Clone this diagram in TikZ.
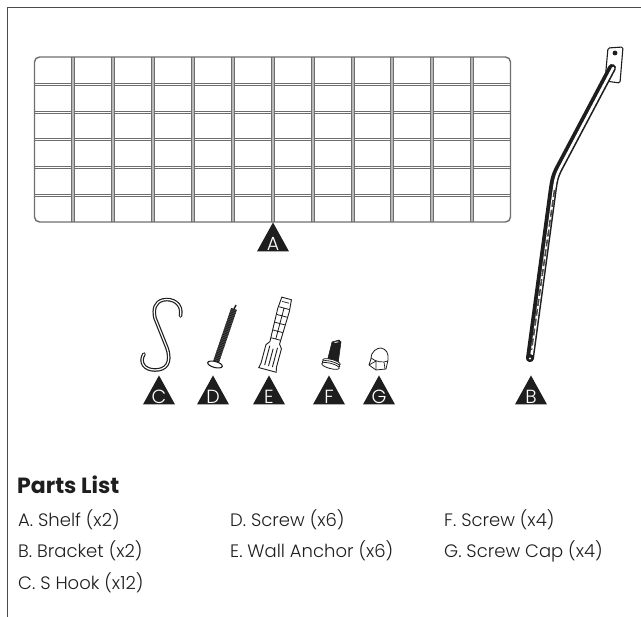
\documentclass[tikz,border=0pt]{standalone}
\usepackage{fontspec}
\setmainfont{Poppins}
\newfontfamily\tagfont{Poppins Light}
\usetikzlibrary{calc,shapes.geometric}
\definecolor{wire}{HTML}{6E6E6E}
\definecolor{ink}{HTML}{1E1E1E}
\tikzset{x=1pt,y=-1pt,
 frameline/.style={draw=ink!80,line width=0.9pt},
 tagbox/.style={isosceles triangle,isosceles triangle stretches=true,shape border rotate=90,fill=ink,inner sep=0pt,minimum height=29pt,minimum width=32pt},
 taglabel/.style={text=white,font=\fontsize{19}{19}\selectfont\tagfont,inner sep=0pt},
 listtext/.style={anchor=base west,text=ink,font=\fontsize{18}{20}\selectfont\tagfont,inner sep=0pt},
 heading/.style={anchor=base west,text=ink,font=\fontsize{22}{24}\selectfont\bfseries,inner sep=0pt},
 wireh/.style={draw=wire,line width=0.6pt},
}
\newcommand{\hookpath}{(180.5,316) .. controls (183,303) and (172,298) .. (163,300) .. controls (155,302) and (153,309) .. (155,318) -- (167,348) .. controls (172,363) and (166,370) .. (155,370) .. controls (144,370) and (139,362) .. (144,354)}
\newcommand{\tubepath}{(612,68) -- (558,170) .. controls (555,176) and (554,181) .. (553,188) -- (530,358)}
\begin{document}
\begin{tikzpicture}
\useasboundingbox (0,0) rectangle (641,617);
\draw[frameline] (7,617) -- (7,7) -- (641,7);
% shelf A
\foreach \y in {84,112,139,167,195} {
  \draw[wireh] (34,\y-1) -- (510,\y-1);
  \draw[wireh] (34,\y+1) -- (510,\y+1);
}
\foreach \x in {73,113,153,193,233,273,313,353,392,432,472} {
  \draw[wire!50,line width=2pt] (\x,57) -- (\x,222);
  \draw[wireh] (\x-1.3,57) -- (\x-1.3,222);
  \draw[wireh] (\x+1.3,57) -- (\x+1.3,222);
}
\draw[draw=wire,line width=1.4pt,rounded corners=5pt] (34.5,57) rectangle (510.5,222);
% bracket B
\draw[fill=white,draw=ink,line width=1.1pt,rounded corners=1.5pt] (608,48) -- (623,47) -- (620,83) -- (605,81) -- cycle;
\fill[ink] (615,53) circle (2.4pt);
\draw[ink,line width=8pt,line cap=round,line join=round] \tubepath;
\draw[white,line width=2.6pt,line cap=round,line join=round,xshift=1.2pt] \tubepath;
\draw[ink!80,line width=1.6pt,dash pattern=on 7pt off 3pt] (554.5,190) -- (531.5,350);
\fill[ink] (530,358) circle (4pt);
\fill[white] (530,358.5) circle (1.2pt);
% S hook C
\draw[ink,line width=3.6pt,line cap=round] \hookpath;
\draw[white,line width=1.2pt,line cap=round] \hookpath;
% screw D
\draw[ink!70,line width=6pt] (234,309) -- (216,362);
\draw[ink,line width=6pt,dash pattern=on 1pt off 0.7pt] (234,309) -- (216,362);
\draw[ink,line width=1.4pt] (234,309) -- (236,305);
\draw[fill=white,draw=ink,line width=1.1pt,rotate around={-15:(215,364.5)}] (215,364.5) ellipse (7.5 and 3);
% anchor E
\begin{scope}[shift={(268,368)},rotate=-15]
 \draw[fill=white,draw=ink,line width=0.9pt] (-9,2) -- (9,2) -- (8,-3) -- (8,-22) -- (5,-26) -- (6,-60) -- (5,-72) -- (-5,-72) -- (-6,-60) -- (-5,-26) -- (-8,-22) -- (-8,-3) -- cycle;
 \draw[ink,line width=0.8pt] (-5,-62) -- (5,-62) (-5,-54) -- (5,-54) (-5,-46) -- (5,-46) (-5,-38) -- (5,-38) (-5,-30) -- (5,-30) (0,-62) -- (0,-30);
 \draw[ink,line width=0.9pt] (-4,-2) -- (-4,-22) (0,-2) -- (0,-20) (4,-2) -- (4,-22);
 \draw[ink,line width=0.7pt] (-3.5,-68) -- (3.5,-68);
\end{scope}
% screw F
\draw[fill=ink,draw=ink,line width=0.6pt] (332,342) -- (339,340) -- (341,342) -- (338,364) -- (327,362) -- cycle;
\draw[white,line width=0.8pt] (334.5,342.5) -- (338.5,341.8);
\foreach \d in {0,2,4}
  \draw[fill=white,draw=ink,line width=0.8pt,rotate around={-15:(331,364)}] (331,362+\d) ellipse (9 and 2.6);
% cap G
\draw[fill=white,draw=ink,line width=0.8pt] (371,359) .. controls (371,351) and (377,348) .. (381,348) .. controls (386,349) and (389,353) .. (388,360) -- (386,369) -- (376,370) -- (369,365) -- cycle;
\draw[ink,line width=0.7pt] (371,358) .. controls (376,362) and (383,363) .. (388,361) (376,361) -- (376,370) (384,362) -- (385,369) (369,365) -- (376,361);
% tags
\node[tagbox] (ta) at (273,242) {};
\node[tagbox] (tb) at (531,395) {};
\node[tagbox] (tc) at (159,395) {};
\node[tagbox] (td) at (213,395) {};
\node[tagbox] (te) at (269,395) {};
\node[tagbox] (tf) at (329,395) {};
\node[tagbox] (tg) at (379,395) {};
\foreach \n/\t in {ta/A,tb/B,tc/C,td/D,te/E,tf/F,tg/G}
  \node[taglabel] (l\n) at ([yshift=-2pt]\n.center) {\t};
% list
\node[heading] (h) at (17,494) {Parts List};
\node[listtext] (a) at (18,527) {A. Shelf (x2)};
\node[listtext] (b) at (18,558) {B. Bracket (x2)};
\node[listtext] (c) at (18,590) {C. S Hook (x12)};
\node[listtext] (d) at (230,527) {D. Screw (x6)};
\node[listtext] (e) at (230,558) {E. Wall Anchor (x6)};
\node[listtext] (f) at (444,527) {F. Screw (x4)};
\node[listtext] (g) at (444,558) {G. Screw Cap (x4)};
\end{tikzpicture}
\end{document}
